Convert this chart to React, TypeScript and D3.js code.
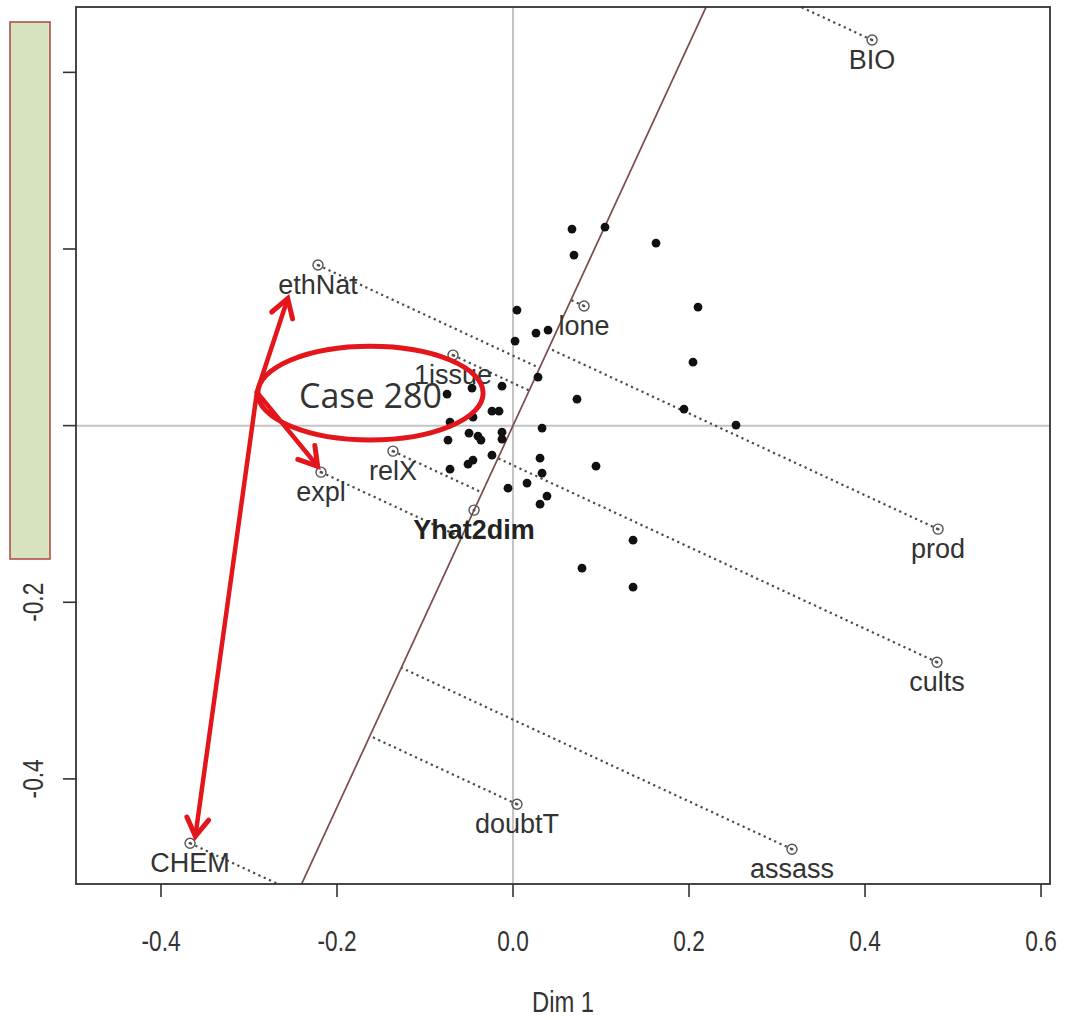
import React from "react";
import * as d3 from "d3";

// ---- data ----
const X_TICKS = [-0.4, -0.2, 0.0, 0.2, 0.4, 0.6];
const Y_TICKS = [-0.4, -0.2, 0.0, 0.2, 0.4];
const X_LABEL = "Dim 1";

// variables (supplementary / projected)
const VAR_NAMES = ["BIO", "ethNat", "lone", "1issue", "relX", "expl", "Yhat2dim", "prod", "cults", "doubtT", "assass", "CHEM"];
const VAR_X = [0.408, -0.2216, 0.0807, -0.0682, -0.1364, -0.2182, -0.0443, 0.483, 0.4818, 0.0045, 0.317, -0.367];
const VAR_Y = [0.4366, 0.1818, 0.1354, 0.0798, -0.0289, -0.0527, -0.0957, -0.1172, -0.2679, -0.4287, -0.4796, -0.4728];
const AXIS_VAR = "Yhat2dim";

// observations
const OBS_X = [0.067, 0.1045, 0.1625, 0.0693, 0.2102, 0.0045, 0.0261, 0.0398, 0.0023, 0.2045, 0.0284, -0.0125, -0.0466, -0.075, 0.0727, -0.0239, -0.0159, -0.0455, -0.0716, 0.1943, 0.2534, 0.033, -0.0125, -0.0125, -0.05, -0.0398, -0.0364, -0.0739, -0.0239, 0.0307, -0.0455, -0.0511, -0.0716, 0.033, 0.0159, -0.0057, 0.0386, 0.0307, 0.0943, 0.1364, 0.0784, 0.1364];
const OBS_Y = [0.2225, 0.2248, 0.2067, 0.1931, 0.1342, 0.1308, 0.1048, 0.1082, 0.0957, 0.0719, 0.0549, 0.0447, 0.0425, 0.0357, 0.03, 0.0164, 0.0164, 0.0096, 0.004, 0.0187, 0.0006, -0.0028, -0.0074, -0.0153, -0.0085, -0.0119, -0.0164, -0.0164, -0.0334, -0.0368, -0.039, -0.0436, -0.0493, -0.0538, -0.0651, -0.0708, -0.0798, -0.0889, -0.0459, -0.1297, -0.1614, -0.1829];

// annotation (data units)
const ANNOT_TEXT = "Case 280";
const ELLIPSE = { cx: -0.162, cy: 0.0368, rx: 0.128, ry: 0.053 };
const ARROW_FROM = [-0.291, 0.038];
const ARROW_TIPS = [
  [-0.256, 0.144],
  [-0.222, -0.046],
  [-0.361, -0.465],
];

export default function App() {
  const W = 1066, H = 1020;
  const L = 76, R = 1050, T = 7, B = 884;
  const x = d3.scaleLinear().domain([-0.4966, 0.6102]).range([L, R]);
  const y = d3.scaleLinear().domain([-0.519, 0.474]).range([B, T]);

  const ai = VAR_NAMES.indexOf(AXIS_VAR);
  const ax = VAR_X[ai], ay = VAR_Y[ai];
  const n = Math.hypot(ax, ay);
  const ux = ax / n, uy = ay / n;

  const lineGen = d3.line<[number, number]>().x((d) => x(d[0])).y((d) => y(d[1]));
  const axisLine = lineGen([[-2 * ux, -2 * uy], [2 * ux, 2 * uy]]);

  const proj = VAR_NAMES.map((name, i) => {
    const t = VAR_X[i] * ux + VAR_Y[i] * uy;
    return { name, x0: VAR_X[i], y0: VAR_Y[i], x1: t * ux, y1: t * uy };
  });

  const axisFont = "'Liberation Sans', Arial, sans-serif";
  const red = "#e3161c";

  const arrowHead = (fx: number, fy: number, tx: number, ty: number, len = 21, ang = 0.55) => {
    const a = Math.atan2(ty - fy, tx - fx);
    const p1 = [tx - len * Math.cos(a - ang), ty - len * Math.sin(a - ang)];
    const p2 = [tx - len * Math.cos(a + ang), ty - len * Math.sin(a + ang)];
    return `M${p1[0]},${p1[1]}L${tx},${ty}L${p2[0]},${p2[1]}`;
  };

  const jx = x(ARROW_FROM[0]), jy = y(ARROW_FROM[1]);

  return (
    <svg width={W} height={H} style={{ position: "absolute", left: 0, top: 0, display: "block", background: "#fff" }}>
      <defs>
        <clipPath id="plotclip">
          <rect x={L} y={T} width={R - L} height={B - T} />
        </clipPath>
      </defs>
      <rect x={0} y={0} width={W} height={H} fill="#fff" />
      <g clipPath="url(#plotclip)">
        {/* reference lines */}
        <line x1={x(0)} x2={x(0)} y1={T} y2={B} stroke="#c4c4c4" strokeWidth={2} />
        <line x1={L} x2={R} y1={y(0)} y2={y(0)} stroke="#c4c4c4" strokeWidth={2} />
        {/* projection lines */}
        {proj.map((p) => (
          <line key={"pl" + p.name} x1={x(p.x0)} y1={y(p.y0)} x2={x(p.x1)} y2={y(p.y1)}
            stroke="#4a4a4a" strokeWidth={2.2} strokeDasharray="2.2 3.6" />
        ))}
        {/* Yhat axis */}
        <path d={axisLine || ""} stroke="#7a4b4b" strokeWidth={1.7} fill="none" />
        {/* observations */}
        {OBS_X.map((ox, i) => (
          <circle key={"o" + i} cx={x(ox)} cy={y(OBS_Y[i])} r={4.4} fill="#111" />
        ))}
        {/* variable symbols */}
        {proj.map((p) => (
          <g key={"vs" + p.name}>
            <circle cx={x(p.x0)} cy={y(p.y0)} r={5} fill="none" stroke="#555" strokeWidth={1.4} />
            <circle cx={x(p.x0)} cy={y(p.y0)} r={1.4} fill="#555" />
          </g>
        ))}
        {/* labels */}
        {proj.map((p) => (
          <text key={"vl" + p.name} x={x(p.x0)} y={y(p.y0) + 29} textAnchor="middle"
            fontFamily={axisFont} fontSize={27} fontWeight={p.name === AXIS_VAR ? "bold" : "normal"}
            fill={p.name === AXIS_VAR ? "#222" : "#333"}>
            {p.name}
          </text>
        ))}
      </g>
      {/* frame */}
      <rect x={L} y={T} width={R - L} height={B - T} fill="none" stroke="#333" strokeWidth={1.8} />
      {/* x axis */}
      {X_TICKS.map((t) => (
        <g key={"xt" + t}>
          <line x1={x(t)} x2={x(t)} y1={B} y2={B + 13} stroke="#333" strokeWidth={1.6} />
          <text transform={`translate(${x(t)},${B + 67}) scale(0.78,1)`} textAnchor="middle"
            fontFamily={axisFont} fontSize={29} fill="#333">{t.toFixed(1)}</text>
        </g>
      ))}
      <text transform={`translate(${(L + R) / 2},${B + 128}) scale(0.82,1)`} textAnchor="middle"
        fontFamily={axisFont} fontSize={29} fill="#333">{X_LABEL}</text>
      {/* y axis */}
      {Y_TICKS.map((t) => (
        <g key={"yt" + t}>
          <line x1={L - 13} x2={L} y1={y(t)} y2={y(t)} stroke="#333" strokeWidth={1.6} />
          <text transform={`translate(${L - 33},${y(t)}) rotate(-90) scale(0.78,1)`} textAnchor="middle"
            fontFamily={axisFont} fontSize={29} fill="#333">{t.toFixed(1)}</text>
        </g>
      ))}
      {/* annotations */}
      <g>
        <ellipse cx={x(ELLIPSE.cx)} cy={y(ELLIPSE.cy)} rx={x(ELLIPSE.rx) - x(0)} ry={y(0) - y(ELLIPSE.ry)}
          fill="none" stroke={red} strokeWidth={5} />
        <text x={x(ELLIPSE.cx)} y={y(ELLIPSE.cy) + 15} textAnchor="middle"
          fontFamily="'Open Sans', sans-serif" fontSize={34} fill="#333">{ANNOT_TEXT}</text>
        {ARROW_TIPS.map((tp, i) => {
          const tx = x(tp[0]), ty = y(tp[1]);
          return (
            <g key={"ar" + i}>
              <line x1={jx} y1={jy} x2={tx} y2={ty} stroke={red} strokeWidth={4.5} strokeLinecap="round" />
              <path d={arrowHead(jx, jy, tx, ty)} stroke={red} strokeWidth={5} fill="none"
                strokeLinecap="round" strokeLinejoin="miter" />
            </g>
          );
        })}
      </g>
      {/* overlay box */}
      <rect x={10} y={22} width={40} height={537} fill="#d7e3bf" stroke="#b0504c" strokeWidth={1.6} />
    </svg>
  );
}
